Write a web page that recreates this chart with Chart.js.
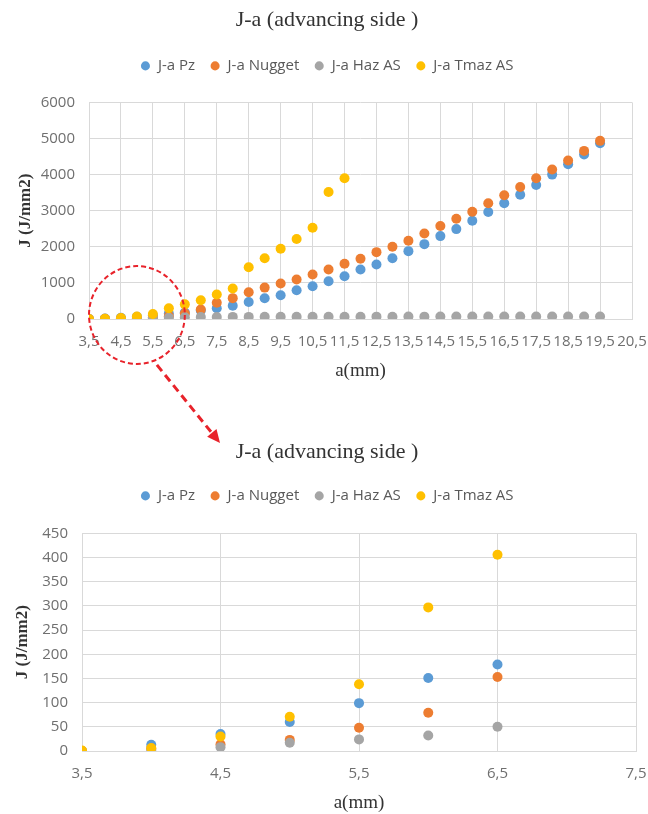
<!DOCTYPE html>
<html>
<head>
<meta charset="utf-8">
<script src="https://cdn.jsdelivr.net/npm/chart.js@4"></script>
<style>
body { margin: 0; background: #fff; }
#wrap { position: relative; width: 648px; height: 814px; }
canvas { position: absolute; left: 0; }
</style>
</head>
<body>
<div id="wrap">
<canvas id="full" width="648" height="382" style="top:0"></canvas>
<canvas id="zoom" width="648" height="382" style="top:432px"></canvas>
<canvas id="marks" width="648" height="814" style="top:0"></canvas>
</div>
<script>
const chartTitle = "J-a (advancing side )";
const seriesNames = ["J-a Pz", "J-a Nugget", "J-a Haz AS", "J-a Tmaz AS"];
const seriesColors = ["#5b9bd5", "#ed7d31", "#a5a5a5", "#ffc000"];

// a (mm) positions of the measurements
const aSteps = [3.5, 4, 4.5, 5, 5.5, 6, 6.5, 7, 7.5, 8, 8.5, 9, 9.5, 10, 10.5, 11, 11.5,
	12, 12.5, 13, 13.5, 14, 14.5, 15, 15.5, 16, 16.5, 17, 17.5, 18, 18.5, 19, 19.5];

// J (J/mm2) per series
const jPz = [0, 13, 35, 60, 99, 151, 179, 235, 300, 365, 472, 574, 657, 796, 907, 1046, 1185,
	1370, 1509, 1685, 1880, 2074, 2296, 2490, 2722, 2963, 3204, 3444, 3713, 4000, 4287, 4556, 4870];
const jNugget = [0, 5, 14, 23, 48, 79, 153, 260, 450, 578, 741, 870, 981, 1093, 1231, 1370, 1528,
	1667, 1852, 2000, 2167, 2370, 2574, 2778, 2972, 3204, 3426, 3657, 3898, 4139, 4389, 4657, 4935];
const jHaz = [0, 2, 8, 17, 24, 32, 50, 55, 56, 58, 58, 60, 61, 60, 62, 63, 62,
	64, 65, 64, 66, 65, 67, 66, 68, 67, 68, 69, 68, 70, 69, 70, 71];
const jTmaz = [1, 6, 30, 71, 138, 297, 406, 520, 680, 845, 1435, 1685, 1945, 2215, 2530, 3520, 3900];

const xTicksFull = [3.5, 4.5, 5.5, 6.5, 7.5, 8.5, 9.5, 10.5, 11.5, 12.5, 13.5, 14.5, 15.5, 16.5, 17.5, 18.5, 19.5, 20.5];
const yTicksFull = [0, 1000, 2000, 3000, 4000, 5000, 6000];
const xTicksZoom = [3.5, 4.5, 5.5, 6.5, 7.5];
const yTicksZoom = [0, 50, 100, 150, 200, 250, 300, 350, 400, 450];
const zoomCount = 7; // points 3,5 .. 6,5 shown in the zoom

const allSeries = [jPz, jNugget, jHaz, jTmaz];

const tickFont = { family: "Open Sans", size: 15 };
const tickColor = "#6f6f6f";
const gridColor = "#d9d9d9";

function buildDatasets(limit) {
	return allSeries.map((vals, k) => {
		let n = Math.min(vals.length, limit);
		let pts = [];
		for (let i = 0; i < n; i++) {
			pts.push({ x: aSteps[i], y: vals[i] });
		}
		return {
			label: seriesNames[k],
			data: pts,
			backgroundColor: seriesColors[k],
			borderColor: seriesColors[k],
			borderWidth: 0,
			pointRadius: 5,
			pointHoverRadius: 5,
			order: 4 - k,
		};
	});
}

function makeChart(el, cfg) {
	return new Chart(el, {
		type: "scatter",
		data: { datasets: buildDatasets(cfg.limit) },
		options: {
			responsive: false,
			animation: false,
			layout: { padding: { left: 6, right: 0, top: 0, bottom: 0 } },
			plugins: {
				title: {
					display: true,
					text: chartTitle,
					color: "#333",
					font: { family: "Liberation Serif", size: 22, weight: "normal" },
					padding: { top: 7, bottom: cfg.titleGap },
				},
				// empty spacer between the legend and the plot
				subtitle: {
					display: true,
					text: "",
					weight: 500,
					font: { size: 10 },
					padding: { top: cfg.legendGap, bottom: 0 },
				},
				legend: {
					labels: {
						usePointStyle: true,
						pointStyle: "circle",
						boxWidth: 10,
						boxHeight: 6.4,
						padding: 15,
						color: "#595959",
						font: { family: "Open Sans", size: 15 },
						sort: (a, b) => a.datasetIndex - b.datasetIndex,
					},
				},
				tooltip: { enabled: false },
			},
			scales: {
				x: {
					type: "linear",
					min: cfg.xTicks[0],
					max: cfg.xTicks[cfg.xTicks.length - 1],
					afterBuildTicks: (s) => {
						s.ticks = cfg.xTicks.map((v) => ({ value: v }));
					},
					afterFit: (s) => {
						s.height = 382 - 319;
						s.paddingLeft = 0;
						s.paddingRight = cfg.right;
					},
					ticks: {
						autoSkip: false,
						maxRotation: 0,
						padding: 14,
						color: tickColor,
						font: tickFont,
						callback: (v) => String(v).replace(".", ","),
					},
					grid: { color: gridColor, drawTicks: false },
					border: { color: gridColor },
					title: {
						display: true,
						text: "a(mm)",
						color: "#333",
						font: { family: "Liberation Serif", size: 19 },
						padding: { top: 0, bottom: 0 },
					},
				},
				y: {
					min: 0,
					max: cfg.yTicks[cfg.yTicks.length - 1],
					afterBuildTicks: (s) => {
						s.ticks = cfg.yTicks.map((v) => ({ value: v }));
					},
					afterFit: (s) => {
						s.width = cfg.left - 6;
					},
					ticks: {
						padding: 14,
						color: tickColor,
						font: tickFont,
						callback: (v) => String(v),
					},
					grid: { color: gridColor, drawTicks: false },
					border: { display: false },
					title: {
						display: true,
						text: "J (J/mm2)",
						color: "#333",
						font: { family: "Liberation Serif", size: 17, weight: "bold" },
						padding: { top: cfg.yTitlePad, bottom: 0 },
					},
				},
			},
		},
	});
}

const fullChart = makeChart(document.getElementById("full"), {
	limit: aSteps.length,
	xTicks: xTicksFull,
	yTicks: yTicksFull,
	left: 89,
	right: 16,
	titleGap: 10,
	legendGap: 7,
	yTitlePad: 9,
});

const zoomChart = makeChart(document.getElementById("zoom"), {
	limit: zoomCount,
	xTicks: xTicksZoom,
	yTicks: yTicksZoom,
	left: 82,
	right: 12,
	titleGap: 8,
	legendGap: 8,
	yTitlePad: 6,
});

// red dashed callout: circle round the low range, arrow down to the zoom
let mk = document.getElementById("marks").getContext("2d");
let xs = fullChart.scales.x;
let ys = fullChart.scales.y;
let cx = xs.getPixelForValue(5);
let cy = ys.getPixelForValue(0) - 4;
let rx = xs.getPixelForValue(6.5) - cx;
let ry = rx + 1;

mk.strokeStyle = "#e8232b";
mk.fillStyle = "#e8232b";
mk.lineWidth = 2;
mk.setLineDash([5, 3]);
mk.beginPath();
mk.ellipse(cx, cy, rx, ry, 0, 0, Math.PI * 2);
mk.stroke();

let x0 = cx + 20, y0 = cy + ry + 1;
let tipX = 220, tipY = 443;
let dx = tipX - x0, dy = tipY - y0;
let len = Math.sqrt(dx * dx + dy * dy);
let ux = dx / len, uy = dy / len;
let headLen = 13, headHalf = 6;
let bx = tipX - ux * headLen, by = tipY - uy * headLen;

mk.lineWidth = 3;
mk.setLineDash([8, 5]);
mk.beginPath();
mk.moveTo(x0, y0);
mk.lineTo(bx, by);
mk.stroke();

mk.setLineDash([]);
mk.beginPath();
mk.moveTo(tipX, tipY);
mk.lineTo(bx - uy * headHalf, by + ux * headHalf);
mk.lineTo(bx + uy * headHalf, by - ux * headHalf);
mk.closePath();
mk.fill();
</script>
</body>
</html>
